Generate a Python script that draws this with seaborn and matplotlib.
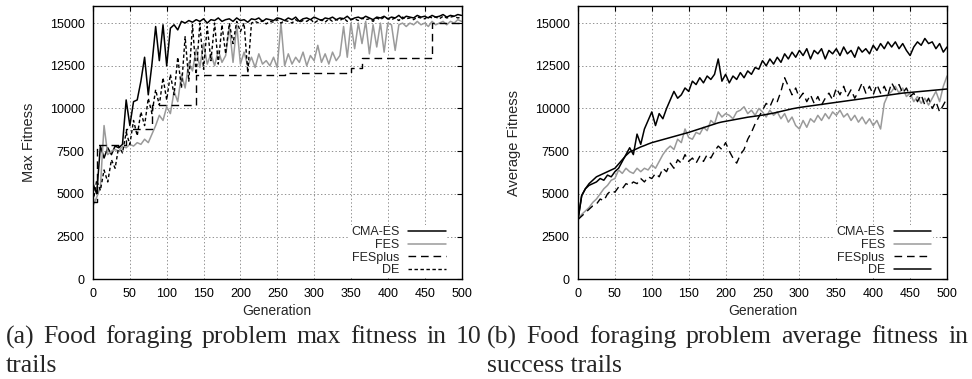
import matplotlib
matplotlib.use("Agg")
import matplotlib.pyplot as plt
import seaborn as sns

generations = list(range(0, 501, 5))

# ---- (a) max fitness ----
cmaes_max = [5600, 5000, 7800, 7100, 7700, 7300, 7800, 7700, 7900, 10500,
             9000, 10400, 10500, 11600, 13000, 10800, 12600, 14800, 12800, 14900,
             12500, 14700, 14900, 14600, 15100, 15000, 15150, 15050, 15200, 15100,
             15250, 15000, 15200, 15150, 15300, 15100, 15200, 15250, 15100, 15300,
             15150, 15200, 15050, 15250, 15200, 15300, 15100, 15250, 15200, 15150,
             15300, 15250, 15150, 15300, 15200, 15350, 15100, 15250, 15300, 15200,
             15350, 15250, 15150, 15300, 15250, 15350, 15200, 15300, 15250, 15400,
             15200, 15300, 15350, 15250, 15400, 15300, 15200, 15350, 15300, 15400,
             15250, 15350, 15300, 15450, 15250, 15400, 15350, 15300, 15450, 15350,
             15400, 15300, 15450, 15350, 15400, 15500, 15350, 15450, 15400, 15500,
             15450]
fes_max = [4300, 4800, 5400, 9000, 7300, 7500, 7600, 7500, 7800, 7700,
           7900, 7800, 8000, 7900, 8200, 8000, 8500, 9000, 9600, 9300,
           10100, 9700, 11000, 10400, 12000, 11200, 12700, 12200, 13500, 12400,
           13800, 12600, 13200, 12500, 13400, 12700, 13100, 14800, 12700, 14900,
           12600, 13300, 12500, 13000, 12400, 13200, 12600, 12800, 12500, 13000,
           12400, 15000, 12500, 13200, 12600, 13000, 12700, 13300, 12500, 13100,
           12800, 13700, 12700, 13200, 12600, 13300, 12800, 13100, 14800, 13000,
           15000, 13500, 15000, 13800, 15100, 13200, 14900, 13600, 15000, 13300,
           15000, 14900, 13400, 14900, 15000, 14800, 15000, 14900, 15100, 14900,
           15000, 14800, 15100, 14900, 15000, 15100, 14900, 15100, 15000, 15200,
           15100]
fesplus_max = [4500, 7850, 7850, 7850, 7850, 7850, 7850, 7850, 7850, 8800,
               8800, 8800, 8800, 8800, 8800, 8800, 10200, 10200, 10200, 10200,
               10200, 10200, 10200, 10200, 10200, 10200, 10200, 10200, 11950, 11950,
               11950, 11950, 11950, 11950, 11950, 11950, 11950, 11950, 11950, 11950,
               11950, 11950, 11950, 11950, 11950, 11950, 11950, 11950, 11950, 11950,
               11950, 11950, 12100, 12100, 12100, 12100, 12100, 12100, 12100, 12100,
               12100, 12100, 12100, 12100, 12100, 12100, 12100, 12100, 12100, 12100,
               12350, 12350, 12350, 12950, 12950, 12950, 12950, 12950, 12950, 12950,
               12950, 12950, 12950, 12950, 12950, 12950, 12950, 12950, 12950, 12950,
               12950, 12950, 15000, 15000, 15000, 15000, 15000, 15000, 15000, 15000,
               15000]
de_max = [4500, 5800, 5200, 6400, 5700, 7000, 6500, 7800, 7400, 8600,
          7900, 9300, 8400, 9800, 9000, 10600, 9700, 11100, 10200, 11800,
          10500, 12000, 10800, 13000, 11200, 14200, 11600, 14900, 12000, 15000,
          12300, 14800, 12800, 15000, 12600, 14900, 13200, 15000, 13800, 15100,
          14500, 15000, 12100, 15000, 15100, 15000, 15150, 14950, 15100, 15050,
          15200, 15000, 15150, 15100, 15000, 15200, 15050, 15150, 15100, 15250,
          15000, 15150, 15200, 15050, 15250, 15100, 15200, 15150, 15300, 15100,
          15200, 15250, 15150, 15300, 15200, 15250, 15100, 15300, 15200, 15350,
          15250, 15200, 15300, 15150, 15350, 15250, 15300, 15200, 15350, 15300,
          15250, 15400, 15300, 15350, 15250, 15400, 15300, 15350, 15400, 15300,
          15350]

# ---- (b) average fitness ----
cmaes_avg = [3500, 4900, 5300, 5500, 5600, 5700, 5900, 5800, 6100, 6000,
             6300, 6500, 6900, 7300, 7700, 7300, 8500, 7900, 8800, 9300,
             9800, 9000, 9700, 9400, 10000, 10500, 11000, 10600, 10800, 11200,
             11000, 11600, 11400, 11800, 11500, 11900, 11700, 12000, 12900, 11600,
             12000, 11500, 11900, 11700, 12100, 11800, 12200, 12000, 12400, 12300,
             12800, 12500, 12900, 12600, 13000, 12700, 13200, 12900, 13300, 13000,
             13400, 13100, 13500, 12900, 13400, 13200, 13500, 12900, 13400, 13200,
             13500, 13100, 13600, 13200, 13400, 13000, 13600, 13300, 13500, 13200,
             13700, 13400, 13800, 13500, 13900, 13600, 13900, 13500, 13800, 13400,
             13100, 13600, 13900, 13700, 14100, 13800, 13900, 13500, 13800, 13300,
             13600]
fes_avg = [3500, 3800, 4000, 4200, 4500, 4700, 5000, 5300, 5500, 5800,
           5900, 6400, 6200, 6500, 6300, 6200, 6500, 6300, 6500, 6400,
           6700, 6500, 6900, 7300, 7600, 7800, 7600, 8200, 8000, 8800,
           8300, 8200, 8600, 8500, 8900, 8700, 9300, 9100, 9800, 9500,
           9700, 9600, 9400, 9800, 9900, 10100, 9700, 9900, 9600, 10000,
           9800, 9500, 9900, 9600, 9800, 9400, 9700, 9200, 9500, 9000,
           8800, 9300, 8900, 9400, 9200, 9600, 9300, 9700, 9400, 9800,
           9600, 9900, 9500, 9700, 9300, 9600, 9200, 9500, 9100, 9400,
           9000, 9300, 8800, 10300, 10800, 11000, 11300, 10900, 11200, 10700,
           10900, 10400, 10700, 10300, 10600, 10200, 10600, 11000, 10400, 11300,
           11900]
fesplus_avg = [3500, 3700, 3900, 4100, 4300, 4400, 4700, 4600, 5000, 5200,
               5100, 5400, 5300, 5600, 5500, 5700, 5600, 5900, 5700, 6000,
               5900, 6200, 6000, 6500, 6300, 6800, 6500, 7000, 6800, 7300,
               6900, 7100, 6800, 7200, 6900, 7300, 7100, 7500, 7800, 7600,
               8000, 7500, 7100, 6800, 7300, 7600, 8200, 8600, 9100, 9500,
               9900, 10300, 10100, 10600, 10400, 11000, 11800, 11300, 10800, 11200,
               10600, 10900, 10400, 10800, 10300, 10700, 10200, 10600, 10900, 10500,
               11200, 10800, 11300, 10700, 11100, 10600, 11000, 11500, 10900, 11300,
               10800, 11400, 10900, 11300, 10800, 11500, 11100, 11400, 10900, 11200,
               10700, 10900, 10400, 10800, 10200, 10600, 10000, 10400, 9800, 10200,
               10600]
de_avg = [3500, 4900, 5300, 5600, 5800, 6000, 6100, 6200, 6300, 6400,
          6500, 6750, 7000, 7250, 7450, 7550, 7650, 7750, 7830, 7920,
          8000, 8060, 8120, 8180, 8240, 8300, 8360, 8420, 8480, 8540,
          8600, 8670, 8740, 8810, 8880, 8950, 9020, 9090, 9160, 9210,
          9250, 9290, 9330, 9370, 9410, 9450, 9490, 9520, 9550, 9580,
          9610, 9650, 9690, 9730, 9780, 9830, 9880, 9930, 9980, 10020,
          10060, 10090, 10120, 10150, 10180, 10210, 10240, 10270, 10300, 10330,
          10360, 10390, 10420, 10450, 10480, 10510, 10540, 10570, 10600, 10630,
          10660, 10690, 10720, 10750, 10780, 10810, 10840, 10870, 10900, 10920,
          10940, 10960, 10980, 11000, 11020, 11040, 11060, 11080, 11100, 11120,
          11140]

series_names = ["CMA-ES", "FES", "FESplus", "DE"]
x_ticks = [0, 50, 100, 150, 200, 250, 300, 350, 400, 450, 500]
y_ticks = [0, 2500, 5000, 7500, 10000, 12500, 15000]
x_label = "Generation"
y_labels = ["Max Fitness", "Average Fitness"]
caption_a = ["(a) Food foraging problem max fitness in 10", "trails"]
caption_b = ["(b) Food foraging problem average fitness in", "success trails"]

sns.set_theme(style="white")
plt.rcParams["font.family"] = ["Liberation Sans", "DejaVu Sans"]
plt.rcParams["lines.scale_dashes"] = False

GRAY = "#9a9a9a"
styles_a = {
    "CMA-ES": dict(color="black", linestyle="-", linewidth=1.1),
    "FES": dict(color=GRAY, linestyle="-", linewidth=1.1),
    "FESplus": dict(color="black", linestyle=(0, (5.5, 3.5)), linewidth=1.0, drawstyle="steps-post"),
    "DE": dict(color="black", linestyle=(0, (2.5, 1.8)), linewidth=1.0),
}
styles_b = {
    "CMA-ES": dict(color="black", linestyle="-", linewidth=1.1),
    "FES": dict(color=GRAY, linestyle="-", linewidth=1.1),
    "FESplus": dict(color="black", linestyle=(0, (5.5, 3.5)), linewidth=1.0),
    "DE": dict(color="black", linestyle="-", linewidth=1.1),
}

fig = plt.figure(figsize=(9.72, 3.79), dpi=100)
W, H = 972.0, 379.0
ax1 = fig.add_axes([93 / W, 1 - 279.3 / H, 368.5 / W, 273.3 / H])
ax2 = fig.add_axes([578 / W, 1 - 279.3 / H, 369 / W, 273.3 / H])

panels = [
    (ax1, [cmaes_max, fes_max, fesplus_max, de_max], styles_a, y_labels[0]),
    (ax2, [cmaes_avg, fes_avg, fesplus_avg, de_avg], styles_b, y_labels[1]),
]

for ax, data, styles, ylab in panels:
    for name, vals in zip(series_names, data):
        sns.lineplot(x=generations, y=vals, ax=ax, label=name,
                     estimator=None, errorbar=None, **styles[name])
    ax.set_xlim(0, 500)
    ax.set_ylim(0, 16000)
    ax.set_xticks(x_ticks)
    ax.set_yticks(y_ticks)
    ax.set_xticklabels([str(t) for t in x_ticks])
    ax.set_yticklabels([str(t) for t in y_ticks])
    ax.set_axisbelow(True)
    ax.grid(True, color="#808080", linestyle=(0, (1, 1.6)), linewidth=0.6)
    ax.tick_params(direction="in", length=3.5, width=0.8, top=True, right=True,
                   labelsize=9, pad=6, colors="black")
    for sp in ax.spines.values():
        sp.set_color("black")
        sp.set_linewidth(1.0)
        sp.set_visible(True)
    ax.set_xlabel(x_label, fontsize=10, labelpad=3)
    ax.set_ylabel(ylab, fontsize=10.5, labelpad=10)
    leg = ax.legend(loc="lower right", bbox_to_anchor=(0.962, 0.004),
                    markerfirst=False, frameon=True, fontsize=9,
                    handlelength=3.0, handletextpad=0.7, labelspacing=0.05,
                    borderpad=0.15, borderaxespad=0.0)
    fr = leg.get_frame()
    fr.set_facecolor("white")
    fr.set_edgecolor("none")
    fr.set_alpha(1.0)
    fr.set_boxstyle("square", pad=0)


def justified(text, x0, x1, y_px, size):
    words = text.split()
    renderer = fig.canvas.get_renderer()
    objs = [fig.text(0, 1 - y_px / H, w, fontsize=size, va="baseline", ha="left",
                     family=["Liberation Serif", "DejaVu Serif"]) for w in words]
    widths = [o.get_window_extent(renderer).width for o in objs]
    gap = ((x1 - x0) - sum(widths)) / (len(words) - 1)
    x = x0
    for o, w in zip(objs, widths):
        o.set_x(x / W)
        x += w + gap


cap_size = 18.5
justified(caption_a[0], 6, 481, 343.3, cap_size)
justified(caption_b[0], 487, 968, 343.3, cap_size)
fig.text(6 / W, 1 - 372.3 / H, caption_a[1], fontsize=cap_size, va="baseline",
         ha="left", family=["Liberation Serif", "DejaVu Serif"])
fig.text(487 / W, 1 - 372.3 / H, caption_b[1], fontsize=cap_size, va="baseline",
         ha="left", family=["Liberation Serif", "DejaVu Serif"])

fig.savefig("out.png", dpi=100)
